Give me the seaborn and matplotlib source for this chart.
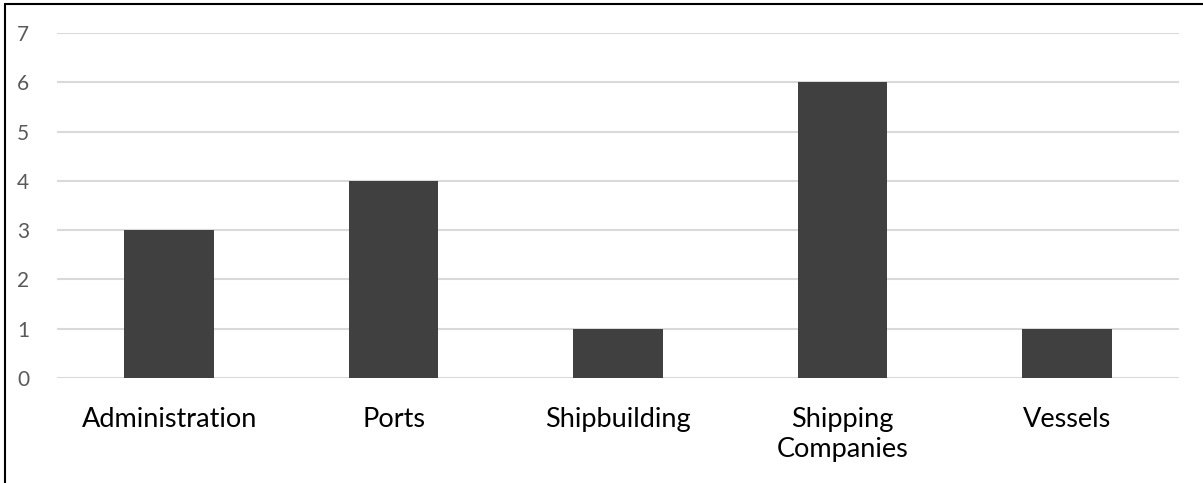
import matplotlib
matplotlib.use("Agg")
import matplotlib.pyplot as plt
import seaborn as sns
import pandas as pd
from matplotlib.lines import Line2D

categories = ["Administration", "Ports", "Shipbuilding", "Shipping\nCompanies", "Vessels"]
counts = [3, 4, 1, 6, 1]
y_ticks = [0, 1, 2, 3, 4, 5, 6, 7]

sns.set_theme(style="white")
plt.rcParams["font.family"] = ["Lato", "DejaVu Sans"]

df = pd.DataFrame({"category": categories, "count": counts})

fig = plt.figure(figsize=(12.03, 4.83), dpi=100)
ax = fig.add_axes([57 / 1203, 1 - 378 / 483, (1179 - 57) / 1203, (378 - 33) / 483])

sns.barplot(data=df, x="category", y="count", color="#404040", saturation=1,
            width=0.4, linewidth=0, ax=ax, zorder=3)

ax.set_ylim(0, 7)
ax.set_xlim(-0.5, len(categories) - 0.5)
ax.set_yticks(y_ticks)
ax.yaxis.grid(True, color="#d9d9d9", linewidth=1.5, zorder=0)
ax.set_axisbelow(True)
for s in ax.spines.values():
    s.set_visible(False)
ax.set_xlabel("")
ax.set_ylabel("")
ax.tick_params(axis="y", length=0, pad=20, labelsize=15, labelcolor="#595959")
ax.tick_params(axis="x", length=0, pad=21, labelsize=19.5, labelcolor="black")
for lbl in ax.get_xticklabels():
    lbl.set_verticalalignment("top")
    lbl.set_linespacing(1.25)

# Frame lines along the left and top edges of the figure
fig.add_artist(Line2D([5 / 1203, 5 / 1203], [0, 1 - 4 / 483], transform=fig.transFigure,
                      color="black", linewidth=1.5))
fig.add_artist(Line2D([5 / 1203, 1], [1 - 4 / 483, 1 - 4 / 483], transform=fig.transFigure,
                      color="black", linewidth=1.5))

fig.savefig("out.png", dpi=100)
